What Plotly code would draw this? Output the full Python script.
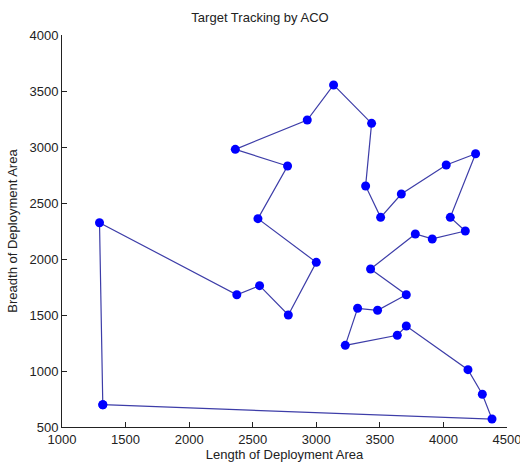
import plotly.graph_objects as go

x_vals = [1321, 1295, 2375, 2554, 2780, 3000, 2541, 2774, 2363, 2929, 3136, 3435,
          3388, 3506, 3669, 4022, 4253, 4054, 4172, 3912, 3779, 3427, 3708, 3482,
          3325, 3228, 3637, 3708, 4193, 4306, 4382, 1321]
y_vals = [699, 2324, 1681, 1762, 1500, 1970, 2360, 2830, 2979, 3241, 3554, 3211,
          2652, 2372, 2580, 2839, 2940, 2372, 2250, 2179, 2223, 1911, 1681, 1542,
          1560, 1229, 1319, 1402, 1012, 792, 571, 699]
x_ticks = [1000, 1500, 2000, 2500, 3000, 3500, 4000, 4500]
y_ticks = [500, 1000, 1500, 2000, 2500, 3000, 3500, 4000]

FONT = dict(family="Liberation Sans, Arial", size=13, color="#222222")

fig = go.Figure()
fig.add_trace(go.Scatter(
    x=x_vals, y=y_vals, mode="lines+markers",
    line=dict(color="#3d3da8", width=1.2),
    marker=dict(color="#0000ff", size=9, symbol="circle"),
    showlegend=False,
))

axis_common = dict(
    showline=True, linecolor="#222222", linewidth=1,
    ticks="inside", ticklen=5, tickcolor="#222222", tickwidth=1,
    showgrid=False, zeroline=False, mirror=False,
    ticklabeloverflow="allow",
    tickfont=FONT,
)

fig.update_layout(
    width=520, height=465,
    margin=dict(l=62, r=13, t=35, b=38),
    paper_bgcolor="white", plot_bgcolor="white",
    title=dict(text="Target Tracking by ACO", x=0.5, xanchor="center",
               y=1 - 17 / 465, yanchor="middle", font=FONT),
    xaxis=dict(range=[1000, 4500], tickvals=x_ticks, ticktext=[str(v) for v in x_ticks],
               title=dict(text="Length of Deployment Area", standoff=3, font=FONT),
               automargin=False, **axis_common),
    yaxis=dict(range=[500, 4000], tickvals=y_ticks, ticktext=[str(v) for v in y_ticks],
               title=dict(text="Breadth of Deployment Area", standoff=8, font=FONT),
               automargin=False, **axis_common),
)

fig.write_html("out.html", config={"displayModeBar": False},
               post_script="document.body.style.margin='0';")
